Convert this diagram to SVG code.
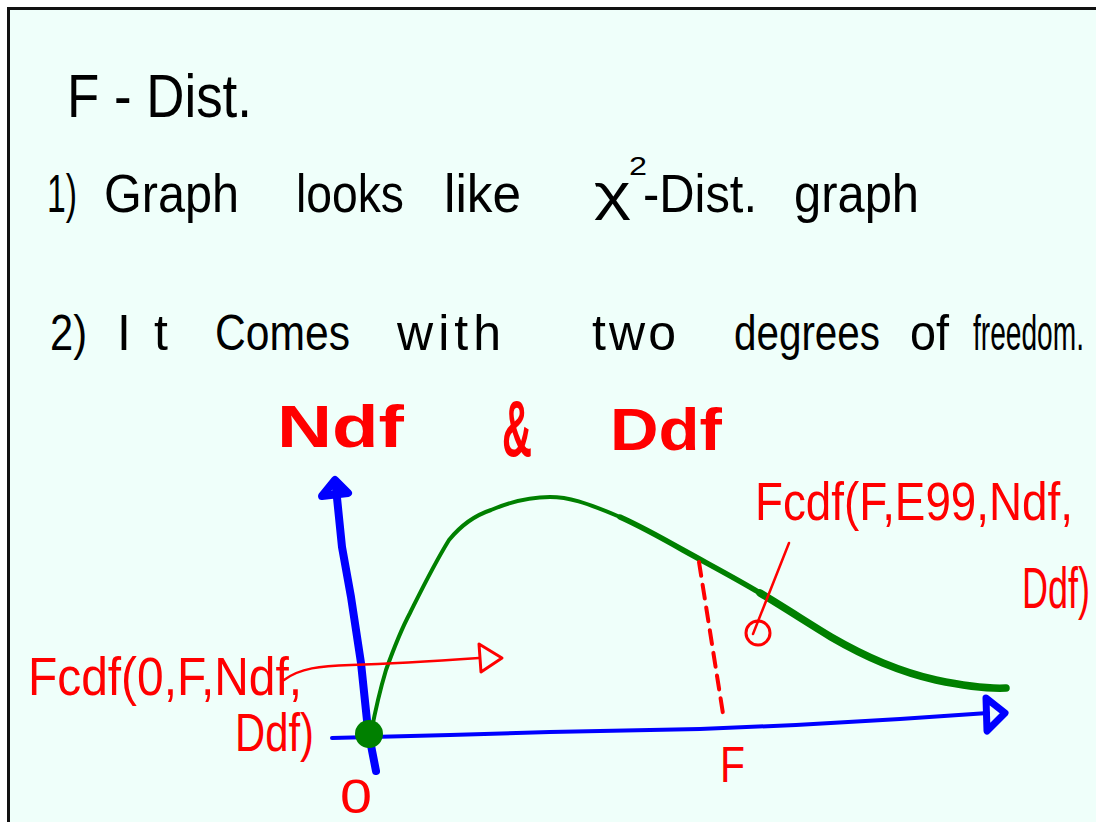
<svg xmlns="http://www.w3.org/2000/svg" width="1096" height="822" viewBox="0 0 1096 822">
  <defs>
    <style>
      .ink { font-family: "Liberation Sans", "DejaVu Sans", sans-serif; fill: #000; }
      .red { font-family: "Liberation Sans", "DejaVu Sans", sans-serif; fill: #ff0000; }
      .redb { font-family: "Liberation Sans", "DejaVu Sans", sans-serif; fill: #ff0000; font-weight: bold; }
      .blue { stroke: #0000ff; fill: none; stroke-linecap: round; stroke-linejoin: round; }
      .green { stroke: #008000; fill: none; stroke-linecap: round; stroke-linejoin: round; }
      .redline { stroke: #ff0000; fill: none; stroke-linecap: round; stroke-linejoin: round; }
    </style>
  </defs>
  <rect x="0" y="0" width="1096" height="822" fill="#ffffff"/>
  <rect x="8.5" y="8.5" width="1100" height="830" fill="#effffa" stroke="#111" stroke-width="3"/>

  <g id="title">
    <text class="ink" x="67" y="117" font-size="62" textLength="185" lengthAdjust="spacingAndGlyphs">F - Dist.</text>
  </g>

  <g id="point1" class="ink" font-size="54">
    <text class="ink" x="47" y="212" textLength="30" lengthAdjust="spacingAndGlyphs">1)</text>
    <text class="ink" x="104" y="212" textLength="135" lengthAdjust="spacingAndGlyphs">Graph</text>
    <text class="ink" x="296" y="212" textLength="108" lengthAdjust="spacingAndGlyphs">looks</text>
    <text class="ink" x="444" y="212" textLength="77" lengthAdjust="spacingAndGlyphs">like</text>
    <text class="ink" x="594" y="210" font-size="50" textLength="37" lengthAdjust="spacingAndGlyphs">χ</text>
    <text class="ink" x="629" y="175" font-size="26" textLength="18" lengthAdjust="spacingAndGlyphs">2</text>
    <text class="ink" x="643" y="212" textLength="114" lengthAdjust="spacingAndGlyphs">-Dist.</text>
    <text class="ink" x="794" y="212" textLength="125" lengthAdjust="spacingAndGlyphs">graph</text>
  </g>

  <g id="point2" class="ink" font-size="50">
    <text class="ink" x="50" y="350" textLength="37" lengthAdjust="spacingAndGlyphs">2)</text>
    <text class="ink" x="117" y="350" textLength="51" lengthAdjust="spacing">It</text>
    <text class="ink" x="215" y="350" textLength="135" lengthAdjust="spacingAndGlyphs">Comes</text>
    <text class="ink" x="397" y="350" textLength="104" lengthAdjust="spacing">with</text>
    <text class="ink" x="592" y="350" textLength="84" lengthAdjust="spacing">two</text>
    <text class="ink" x="734" y="350" textLength="146" lengthAdjust="spacingAndGlyphs">degrees</text>
    <text class="ink" x="910" y="350" textLength="39" lengthAdjust="spacingAndGlyphs">of</text>
    <text class="ink" x="973" y="350" textLength="111" lengthAdjust="spacingAndGlyphs">freedom.</text>
  </g>

  <g id="df-heading" font-size="60">
    <text class="redb" x="277" y="447" textLength="127" lengthAdjust="spacingAndGlyphs">Ndf</text>
    <text class="redb" x="502" y="456" font-size="80" textLength="30" lengthAdjust="spacingAndGlyphs">&amp;</text>
    <text class="redb" x="610" y="450" textLength="112" lengthAdjust="spacingAndGlyphs">Ddf</text>
  </g>

  <g id="axes">
    <polyline class="blue" stroke-width="8" points="376,771 368,730 361,663 351,597 342,547 336,488"/>
    <polygon class="blue" stroke-width="8" fill="#0000ff" points="322,496 335,480 348,493"/>
    <polyline class="blue" stroke-width="4" points="332,738 450,735 550,732 700,729 796,725 900,719 988,713"/>
    <polygon class="blue" stroke-width="7" points="986,698 1005,713 987,731"/>
  </g>

  <g id="curve">
    <path class="green" stroke-width="4" d="M371,733 C375,712 380,690 386,670 C395,645 402,628 410,613 C420,593 433,566 449,540 C462,524 476,515 491,510 C510,502 530,497 550,497 C568,497 585,502 620,517"/>
    <path class="green" stroke-width="5.5" d="M620,517 C640,526 660,537 683,550 C710,565 735,578 760,593"/>
    <path class="green" stroke-width="7.5" d="M760,593 C785,608 808,623 831,637 C850,648 866,656 883,663 C900,670 918,676 936,680 C960,685 985,689 1006,688"/>
    <circle cx="369" cy="734" r="14" fill="#008000"/>
  </g>

  <g id="connectors">
    <line class="redline" stroke-width="4" stroke-dasharray="14 9" x1="699" y1="562" x2="724" y2="720"/>
    <path class="redline" stroke-width="2.5" d="M284,680 C300,668 320,666 351,665 C380,664 420,662 479,658"/>
    <polygon class="redline" stroke-width="3" points="479,644 502,658 481,672"/>
    <line class="redline" stroke-width="2.5" x1="789" y1="543" x2="753" y2="634"/>
    <ellipse class="redline" stroke-width="3" cx="758" cy="633" rx="12" ry="12"/>
  </g>

  <g id="labels" font-size="54">
    <text class="red" x="28" y="695" textLength="274" lengthAdjust="spacingAndGlyphs">Fcdf(0,F,Ndf,</text>
    <text class="red" x="235" y="751" textLength="79" lengthAdjust="spacingAndGlyphs">Ddf)</text>
    <text class="red" x="340" y="813" font-size="48" textLength="32" lengthAdjust="spacingAndGlyphs">0</text>
    <text class="red" x="720" y="782" font-size="50" textLength="25" lengthAdjust="spacingAndGlyphs">F</text>
    <text class="red" x="755" y="520" textLength="318" lengthAdjust="spacingAndGlyphs">Fcdf(F,E99,Ndf,</text>
    <text class="red" x="1022" y="608" font-size="58" textLength="68" lengthAdjust="spacingAndGlyphs">Ddf)</text>
  </g>
</svg>
